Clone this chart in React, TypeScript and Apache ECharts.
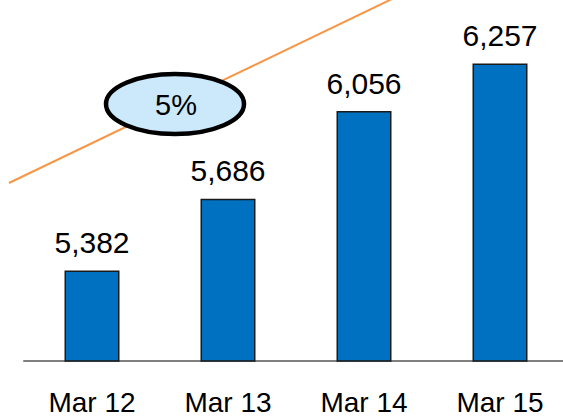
import React, { useEffect, useRef } from "react";
import * as echarts from "echarts";

const categories = ["Mar 12", "Mar 13", "Mar 14", "Mar 15"];
const values = [5382, 5686, 6056, 6257];
const growthLabel = "5%";

export default function App() {
  const ref = useRef<HTMLDivElement>(null);
  useEffect(() => {
    if (!ref.current) return;
    const chart = echarts.init(ref.current, undefined, { renderer: "svg" });
    chart.setOption({
      animation: false,
      grid: {
        left: 24,
        top: 6,
        width: 544,
        height: 355,
        containLabel: false,
        outerBoundsMode: "none",
      },
      xAxis: {
        type: "category",
        data: categories,
        axisLine: { show: true, lineStyle: { color: "#808080", width: 2 } },
        axisTick: { show: false },
        axisLabel: {
          color: "#000",
          fontSize: 28,
          fontFamily: "Liberation Sans, Arial, sans-serif",
          margin: 27,
        },
      },
      yAxis: {
        type: "value",
        min: 5000,
        max: 6500,
        show: false,
        splitLine: { show: false },
      },
      series: [
        {
          type: "bar",
          data: values,
          barWidth: 55,
          itemStyle: { color: "#0070c0", borderColor: "#1a1a1a", borderWidth: 1.5 },
          label: {
            show: true,
            position: "top",
            distance: 13,
            color: "#000",
            fontSize: 30,
            fontFamily: "Liberation Sans, Arial, sans-serif",
            formatter: (p: any) => Number(p.value).toLocaleString("en-US"),
          },
        },
      ],
      graphic: [
        {
          type: "line",
          shape: { x1: 9, y1: 183, x2: 394, y2: -2 },
          style: { stroke: "#f79646", lineWidth: 2 },
          z: 10,
        },
        {
          type: "ellipse",
          shape: { cx: 175, cy: 104, rx: 69, ry: 30 },
          style: { fill: "#cce9fb", stroke: "#000", lineWidth: 4.5 },
          z: 11,
        },
        {
          type: "text",
          x: 176,
          y: 105,
          style: {
            text: growthLabel,
            fill: "#000",
            fontSize: 29,
            fontFamily: "Liberation Sans, Arial, sans-serif",
            align: "center",
            verticalAlign: "middle",
          },
          z: 12,
        },
      ],
    });
    return () => chart.dispose();
  }, []);
  return (
    <div
      ref={ref}
      style={{ position: "absolute", left: 0, top: 0, width: 563, height: 419 }}
    />
  );
}
